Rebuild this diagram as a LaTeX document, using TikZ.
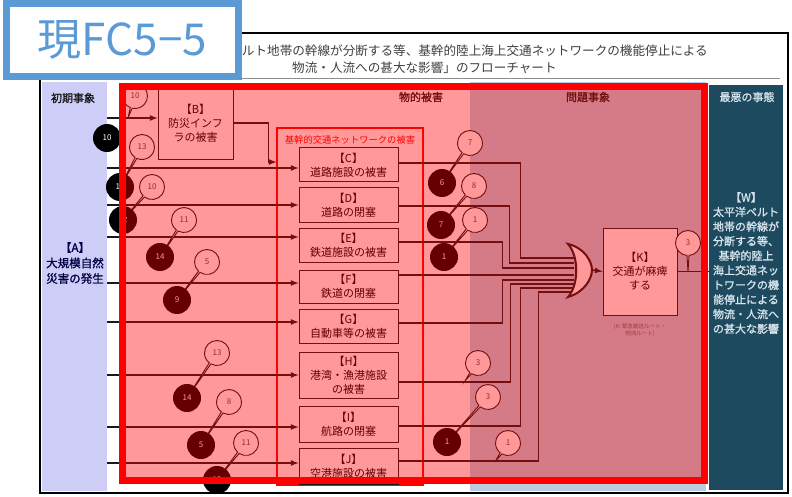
\documentclass[tikz,border=0pt]{standalone}
\usepackage{fontspec}
\setmainfont{Noto Sans CJK JP}[AutoFakeBold=1.2]
\usetikzlibrary{positioning,shapes.callouts}
\definecolor{azulfc}{RGB}{91,155,213}
\definecolor{lavanda}{RGB}{205,205,248}
\definecolor{celeste}{RGB}{185,205,225}
\definecolor{petroleo}{RGB}{30,74,95}
\definecolor{niebla}{RGB}{215,228,236}
\definecolor{tinta}{RGB}{25,25,25}
\tikzset{
  titulo/.style={font=\fontsize{12.6}{13}\selectfont, text=black!75, inner sep=0pt},
  cabecera/.style={font=\fontsize{11}{12}\selectfont\bfseries, text=tinta, inner sep=0pt},
  caja/.style={draw=tinta, line width=1pt, fill=white, align=center, inner sep=0pt, minimum width=99, font=\fontsize{11}{14}\selectfont},
  linea/.style={draw=tinta, line width=1.6pt},
  flecha/.style={linea, -latex},
  ficha/.style={circle, fill=black, text=white, minimum size=28, inner sep=0pt, font=\fontsize{8}{8}\selectfont},
  globo/.style={ellipse callout, draw=tinta, fill=white, line width=0.9pt, minimum width=25, minimum height=25, inner sep=0pt, callout pointer arc=9, text=black!70, font=\fontsize{8}{8}\selectfont},
}
\begin{document}
\begin{tikzpicture}[x=1pt,y=-1pt]
  \useasboundingbox (0,0) rectangle (792,497);
  \fill[white] (0,0) rectangle (792,497);
  \draw[line width=1.6] (40,33) rectangle (788,493);
  \node[titulo, anchor=east] (tit1) at (708,51) {「太平洋ベルト地帯の幹線が分断する等、基幹的陸上海上交通ネットワークの機能停止による};
  \node[titulo, anchor=west] (tit2) at (292,68) {物流・人流への甚大な影響」のフローチャート};
  \draw[black!45, line width=0.8] (44,78) -- (780,78);

  % columnas
  \fill[lavanda] (42,82) rectangle (107,491);
  \fill[celeste] (470,82) rectangle (706,491);
  \fill[petroleo] (709,85) rectangle (783,490);
  \node[cabecera] at (73,98) {初期事象};
  \node[cabecera] at (421,97) {物的被害};
  \node[cabecera] at (588,97) {問題事象};
  \node[cabecera, text=niebla] at (747,97) {最悪の事態};

  \node[align=center, text=black!75!blue, font=\fontsize{11.5}{15.5}\selectfont\bfseries] (A) at (75,263) {【A】\\大規模自然\\災害の発生};
  \node[caja, minimum width=75, minimum height=74] (B) at (195.5,123) {【B】\\防災インフ\\ラの被害};
  \node[draw=red, line width=1.2, minimum width=146, minimum height=357, inner sep=0pt] (basica) at (350,306.5) {};
  \node[text=red, font=\fontsize{9.3}{10}\selectfont] at (350,140) {基幹的交通ネットワークの被害};
  \node[caja, minimum height=34] (C) at (348.5,165) {【C】\\道路施設の被害};
  \node[caja, minimum height=34] (D) at (348.5,205) {【D】\\道路の閉塞};
  \node[caja, minimum height=34] (E) at (348.5,245) {【E】\\鉄道施設の被害};
  \node[caja, minimum height=33] (F) at (348.5,286.5) {【F】\\鉄道の閉塞};
  \node[caja, minimum height=34] (G) at (348.5,326) {【G】\\自動車等の被害};
  \node[caja, minimum height=46] (H) at (348.5,375) {【H】\\港湾・漁港施設\\の被害};
  \node[caja, minimum height=36] (I) at (348.5,424) {【I】\\航路の閉塞};
  \node[caja, minimum height=36] (J) at (348.5,466) {【J】\\空港施設の被害};
  \node[caja, minimum width=74, minimum height=87] (K) at (640,271.5) {【K】\\交通が麻痺\\する};
  \node[align=center, text=black!60, font=\fontsize{5.5}{7}\selectfont] (nota) at (640,330) {(K: 緊急輸送ルート・\\物流ルート)};
  \node[align=center, text=niebla, minimum width=74, inner sep=0pt, font=\fontsize{11}{14.6}\selectfont\bfseries] (W) at (746,263) {【W】\\太平洋ベルト\\地帯の幹線が\\分断する等、\\基幹的陸上\\海上交通ネッ\\トワークの機\\能停止による\\物流・人流へ\\の甚大な影響};

  \coordinate (sB) at (107,118);
  \draw[flecha] (sB) -- (sB -| B.west);
  \draw[flecha] (B.east) -- ++(35,0) |- (basica.west |- 0,162);
  \foreach \n/\y in {C/168,D/205,E/237,F/283,G/322,H/375,I/427,J/463}{
    \coordinate (s\n) at (107,\y);
    \draw[flecha] (s\n) -- (s\n -| \n.west);
  }

  \coordinate (or) at (574,270);
  \coordinate (orout) at (592,270);
  \draw[linea] (C.east |- 0,163) -- ++(122,0) |- (or |- 0,258);
  \draw[linea] (D.east |- 0,206) -- ++(111,0) |- (or |- 0,263);
  \draw[linea] (E.east |- 0,242) -- ++(104,0) |- (or |- 0,268);
  \draw[linea] (F.east |- 0,275) -- (or |- 0,275);
  \draw[linea] (G.east |- 0,323) -- ++(104,0) |- (or |- 0,280);
  \draw[linea] (H.east |- 0,382) -- ++(112,0) |- (or |- 0,284);
  \draw[linea] (I.east |- 0,426) -- ++(122,0) |- (or |- 0,288);
  \draw[linea] (J.east |- 0,461) -- ++(140,0) |- (or |- 0,292);
  \draw[tinta, line width=2, fill=white] (568,244) .. controls (585,248) and (592,262) .. (orout) .. controls (592,278) and (585,292) .. (568,297) .. controls (579,285) and (579,256) .. (568,244) -- cycle;
  \draw[flecha] (orout) -- (K.west);
  \draw[linea] (K.east) -- (W.west |- K.east);

  % marcas y globos
  \foreach \n/\x/\y in {m1/107/138,m2/120/187,m3/123/220,m4/160/257,m5/177/300,m6/187/398,m7/201/445,m8/217/480,m9/442/183,m10/441/225,m11/444/257,m12/447/442}
    \coordinate (\n) at (\x,\y);
  \coordinate (tB) at (128,118);
  \coordinate (tH) at (465,381);
  \coordinate (tJ) at (495,462);
  \coordinate (tK) at (688,272);
  \foreach \x/\y/\t/\d [count=\i] in {135/96/10/tB,142/147/13/m2,152/187/10/m3,184/220/11/m4,207/262/5/m5,217/353/13/m6,229/402/8/m7,246/443/11/m8,470/143/7/m9,474/186/8/m10,475/220/1/m11,478/363/3/tH,488/397/3/m12,508/443/1/tJ,688/243/3/tK}
    \node[globo, callout absolute pointer={(\d)}] (g\i) at (\x,\y) {\t};
  \foreach \n/\t in {m1/10,m2/11,m3/12,m4/14,m5/9,m6/14,m7/5,m8/12,m9/6,m10/7,m11/1,m12/1}
    \node[ficha] (f\n) at (\n) {\t};

  \fill[red, fill opacity=0.4] (122,87) rectangle (704,480);
  \draw[red, line width=7] (122,87) rectangle (704,480);
  \node[draw=azulfc, line width=7, fill=white, minimum width=232, minimum height=73, inner sep=0pt, text=azulfc, font=\fontsize{44}{44}\selectfont] (fc) at (122.5,40) {現FC5−5};
\end{tikzpicture}
\end{document}
